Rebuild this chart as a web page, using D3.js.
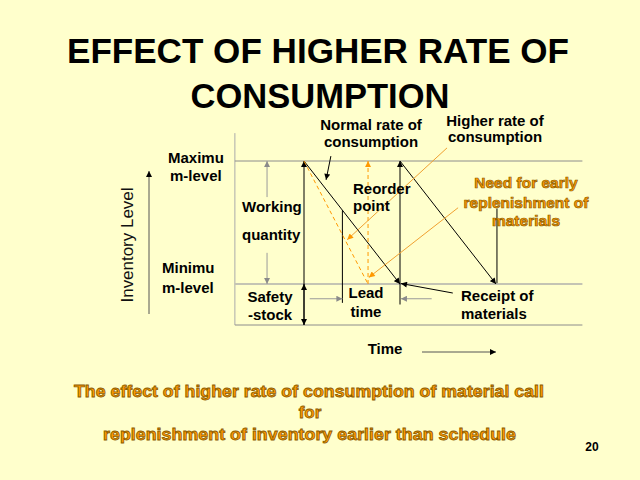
<!DOCTYPE html>
<html>
<head>
<meta charset="utf-8">
<script src="https://cdn.jsdelivr.net/npm/d3@7"></script>
<style>
    html, body { margin: 0; padding: 0; background: #ffffcc; }
    svg { display: block; }
</style>
</head>
<body>
<div id="chart"></div>
<script>
// inventory levels (units): bottom, minimum level (safety stock), maximum level
const levels = [0, 25, 100];
// time axis in "cycles": one normal cycle runs from 0 to 1
const timeExtent = [-0.72, 2.9];
const levelExtent = [0, 117];
// normal rate of consumption: two saw teeth
const normalCycles = [
    [[0, 100], [1, 25]],
    [[1, 100], [2, 25]]
];
// higher rate of consumption reaches the minimum earlier
const higherCycle = [[0, 100], [0.667, 25]];
const receiptTimes = [1, 2];
const reorderPoint = [0.4, 70];
const leadTime = 0.6;

const width = 640, height = 480;
const font = 'Liberation Sans, Arial, sans-serif';

const svg = d3.select('#chart').append('svg')
    .attr('width', width)
    .attr('height', height);

svg.append('rect')
    .attr('width', width)
    .attr('height', height)
    .attr('fill', '#ffffcc');

const x = d3.scaleLinear().domain([0, 1]).range([304, 400]);
const y = d3.scaleLinear().domain([0, 100]).range([325, 161]);

// arrow markers
const defs = svg.append('defs');
function marker(id, color) {
    defs.append('marker')
        .attr('id', id)
        .attr('viewBox', '0 -5 10 10')
        .attr('refX', 10)
        .attr('refY', 0)
        .attr('markerUnits', 'userSpaceOnUse')
        .attr('markerWidth', 7)
        .attr('markerHeight', 6)
        .attr('orient', 'auto')
        .append('path')
        .attr('d', 'M0,-5L10,0L0,5Z')
        .attr('fill', color);
}
marker('arrow-black', '#000');
marker('arrow-gray', '#8a8a8a');
marker('arrow-orange', '#ff9900');

const g = svg.append('g');

function seg(p, opts) {
    const l = g.append('line')
        .attr('x1', x(p[0][0])).attr('y1', y(p[0][1]))
        .attr('x2', x(p[1][0])).attr('y2', y(p[1][1]))
        .attr('stroke', opts.color || '#000')
        .attr('stroke-width', opts.width || 1);
    if (opts.dash) l.attr('stroke-dasharray', opts.dash);
    if (opts.arrow) l.attr('marker-end', `url(#${opts.arrow})`);
    return l;
}

// frame: left axis and level lines
seg([[timeExtent[0], levelExtent[0]], [timeExtent[0], levelExtent[1]]], { color: '#aaaaaa' });
g.selectAll('.level')
    .data(levels)
    .enter().append('line')
    .attr('class', 'level')
    .attr('x1', x(timeExtent[0]))
    .attr('x2', x(timeExtent[1]))
    .attr('y1', d => y(d))
    .attr('y2', d => y(d))
    .attr('stroke', d => d === levels[1] ? '#c4c4b4' : '#8c8c8c')
    .attr('stroke-width', d => d === levels[1] ? 2 : 1);

// working quantity arrow (with a gap for the label)
const wqT = -0.385;
seg([[wqT, 78], [wqT, 100]], { color: '#9a9a9a', arrow: 'arrow-gray' });
seg([[wqT, 44], [wqT, 25]], { color: '#9a9a9a', arrow: 'arrow-gray' });

// first cycle start: working quantity + safety stock arrows
seg([[0, 25], [0, 100]], { arrow: 'arrow-black' });
seg([[0, 25], [0, 0]], { arrow: 'arrow-black' });
seg([[0, 0], [0, 25]], { arrow: 'arrow-black' });

// normal consumption
normalCycles.forEach(c => seg(c, { arrow: 'arrow-black' }));
// replenishment at receipt of first order
seg([[receiptTimes[0], 12.5], [receiptTimes[0], 100]], { arrow: 'arrow-black' });
// reorder point
seg([[reorderPoint[0], reorderPoint[1]], [reorderPoint[0], 13.5]], {});
// lead time arrows
seg([[0.06, 16], [reorderPoint[0], 16]], { color: '#9a9a9a', arrow: 'arrow-gray' });
seg([[reorderPoint[0] + leadTime + 0.33, 16], [reorderPoint[0] + leadTime + 0.01, 16]], { color: '#9a9a9a', arrow: 'arrow-gray' });

// higher consumption (orange dashed)
seg(higherCycle, { color: '#ff9900', dash: '4,3' });
seg([[higherCycle[1][0], higherCycle[1][1]], [higherCycle[1][0], 100]], { color: '#ff9900', dash: '4,3', arrow: 'arrow-orange' });

// pointers
seg([[0.28, 103], [0.23, 88.5]], { arrow: 'arrow-black' });                      // normal rate
seg([[1.55, 19.5], [receiptTimes[0] + 0.01, 25.3]], { arrow: 'arrow-black' });   // receipt
seg([[receiptTimes[1] + 0.01, 71], [receiptTimes[1] + 0.01, 25.5]], {});        // need for early
seg([[1.49, 108], [0.45, 52]], { color: '#f0a030', arrow: 'arrow-orange' });    // higher rate
seg([[1.605, 71.5], [0.675, 29]], { color: '#f0a030', arrow: 'arrow-orange' }); // need for early

// time arrow and inventory level arrow
g.append('line')
    .attr('x1', 422).attr('y1', 352).attr('x2', 496).attr('y2', 352)
    .attr('stroke', '#555').attr('marker-end', 'url(#arrow-black)');
g.append('line')
    .attr('x1', 149).attr('y1', 314).attr('x2', 149).attr('y2', 171)
    .attr('stroke', '#555').attr('marker-end', 'url(#arrow-black)');

// text
function label(txt, px, py, opts = {}) {
    const t = svg.append('text')
        .attr('x', px)
        .attr('y', py)
        .attr('font-family', font)
        .attr('font-weight', opts.weight || 'bold')
        .attr('font-size', (opts.size || 15) + 'px')
        .attr('text-anchor', opts.anchor || 'start')
        .attr('fill', opts.fill || '#000')
        .text(txt);
    if (opts.length) t.attr('textLength', opts.length).attr('lengthAdjust', 'spacingAndGlyphs');
    if (opts.stroke) t.attr('stroke', opts.stroke).attr('stroke-width', opts.strokeWidth || 0.8);
    if (opts.rotate) t.attr('transform', `rotate(${opts.rotate},${px},${py})`);
    return t;
}

label('EFFECT OF HIGHER RATE OF', 318, 63, { size: 35, anchor: 'middle', length: 502 });
label('CONSUMPTION', 320, 108, { size: 35, anchor: 'middle', length: 259 });

label('Normal rate of', 371, 130, { anchor: 'middle' });
label('consumption', 371, 147, { anchor: 'middle' });
label('Higher rate of', 495, 126, { anchor: 'middle' });
label('consumption', 495, 142, { anchor: 'middle' });

label('Maximu', 168, 163);
label('m-level', 170, 181);
label('Minimu', 162, 273);
label('m-level', 162, 293);
label('Working', 242, 212);
label('quantity', 242, 240);
label('Safety', 270, 302, { anchor: 'middle' });
label('-stock', 270, 320, { anchor: 'middle' });
label('Reorder', 353, 194);
label('point', 353, 211);
label('Lead', 366, 298, { anchor: 'middle' });
label('time', 366, 317, { anchor: 'middle' });
label('Receipt of', 461, 301);
label('materials', 461, 319);
label('Time', 385, 354, { anchor: 'middle' });

label('Inventory Level', 133, 245, { weight: 'normal', size: 16.5, anchor: 'middle', rotate: -90, fill: '#111', length: 115 });

const orange = { fill: '#ff9900', stroke: '#8a5a00', strokeWidth: 0.7, anchor: 'middle', size: 15.5 };
label('Need for early', 526, 188, orange);
label('replenishment of', 526, 208, orange);
label('materials', 526, 226, orange);

const caption = { fill: '#ff9900', stroke: '#8a5a00', strokeWidth: 0.8, anchor: 'middle', size: 17 };
label('The effect of higher rate of consumption of material call', 309, 397, Object.assign({ length: 470 }, caption));
label('for', 310, 418, caption);
label('replenishment of inventory earlier than schedule', 309.5, 440, Object.assign({ length: 413 }, caption));

label('20', 592, 451, { size: 12, anchor: 'middle' });
</script>
</body>
</html>
